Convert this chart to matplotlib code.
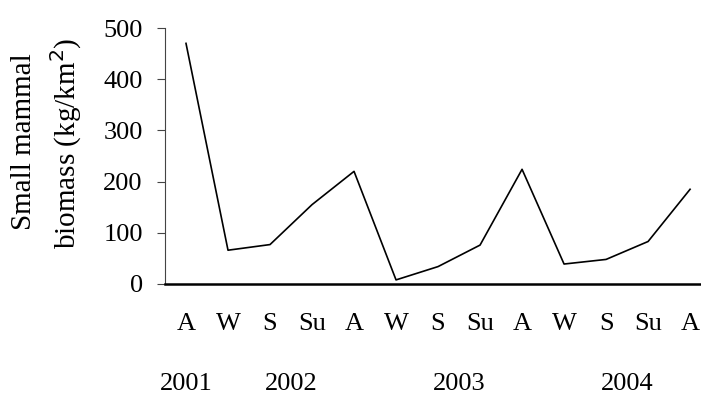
import matplotlib
matplotlib.use('Agg')
import matplotlib.pyplot as plt
import matplotlib.transforms as mtrans

seasons = ['A', 'W', 'S', 'Su', 'A', 'W', 'S', 'Su', 'A', 'W', 'S', 'Su', 'A']
biomass = [470, 66, 77, 155, 220, 8, 34, 76, 224, 39, 48, 83, 185]
years = ['2001', '2002', '2003', '2004']
year_pos = [0, 2.5, 6.5, 10.5]

plt.rcParams['font.family'] = ['Liberation Serif', 'DejaVu Serif']

fig = plt.figure(figsize=(7.01, 3.94), dpi=100)
ax = fig.add_axes([165 / 701, 1 - 284 / 394, 1 - 165 / 701, 256 / 394])

x = list(range(len(biomass)))
ax.plot(x, biomass, color='black', linewidth=1.2)

ax.set_xlim(-0.5, 12.26)
ax.set_ylim(0, 500)
ax.set_yticks([0, 100, 200, 300, 400, 500])
ax.tick_params(axis='y', labelsize=19, length=6, width=0.8, color='#444444', pad=10)
ax.set_xticks([])

for s in ['top', 'right']:
    ax.spines[s].set_visible(False)
ax.spines['left'].set_linewidth(0.8)
ax.spines['left'].set_color('#444444')
ax.spines['bottom'].set_linewidth(1.8)

trans = mtrans.blended_transform_factory(ax.transData, fig.transFigure)
for i, s in enumerate(seasons):
    ax.text(i, 1 - 324 / 394, s, transform=trans, ha='center', va='center', fontsize=19)
for p, yr in zip(year_pos, years):
    ax.text(p, 1 - 384 / 394, yr, transform=trans, ha='center', va='center', fontsize=19)

fig.text(24 / 701, 1 - 142 / 394, 'Small mammal', rotation=90, ha='center', va='center', fontsize=21)
fig.text(66 / 701, 1 - 143 / 394, 'biomass (kg/km$^2$)', rotation=90, ha='center', va='center', fontsize=21)

fig.savefig('out.png', dpi=100)
